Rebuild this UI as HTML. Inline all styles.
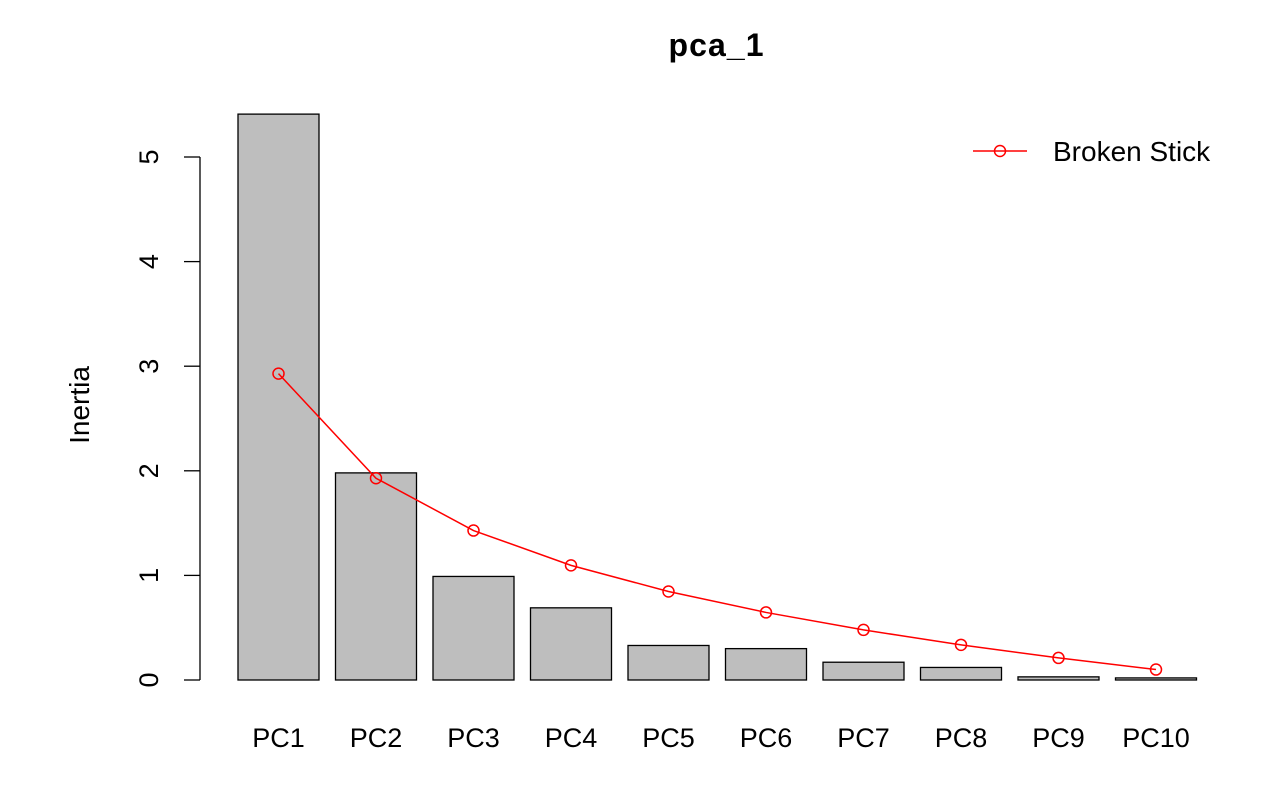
<!DOCTYPE html>
<html><head><meta charset="utf-8"><style>
body{margin:0;background:#fff}
svg{display:block;font-family:"Liberation Sans",Arial,sans-serif}
</style></head><body>
<svg id="chart" width="1276" height="787">
<text x="716" y="56" font-size="32" font-weight="bold" text-anchor="middle" textLength="95">pca_1</text>
<text transform="translate(89,405) rotate(-90)" font-size="28" text-anchor="middle">Inertia</text>
<g id="yaxis"></g>
<g id="bars"></g>
<g id="xlabels"></g>
<g id="line"></g>
<g>
<line x1="973" y1="151" x2="1027" y2="151" stroke="#f00" stroke-width="1.5"/>
<circle cx="1000" cy="151" r="5.5" fill="none" stroke="#f00" stroke-width="1.5"/>
<text x="1053" y="161" font-size="28">Broken Stick</text>
</g>
</svg>
<script>
const categories=["PC1","PC2","PC3","PC4","PC5","PC6","PC7","PC8","PC9","PC10"];
const inertia=[5.41,1.98,0.99,0.69,0.33,0.30,0.17,0.12,0.03,0.02];
const brokenStick=[2.929,1.929,1.429,1.096,0.846,0.646,0.479,0.336,0.211,0.1];
const yTicks=[0,1,2,3,4,5];
const NS="http://www.w3.org/2000/svg";
const y0=680,unit=104.6;
function yScale(v){return y0-v*unit;}
function xLeft(i){return 238+i*97.5;}
function xCenter(i){return xLeft(i)+40.5;}
function mk(tag,attrs,parent){const e=document.createElementNS(NS,tag);for(const k in attrs)e.setAttribute(k,attrs[k]);parent.appendChild(e);return e;}
const ya=document.getElementById('yaxis');
const ax=mk('line',{x1:200,x2:200,y1:yScale(yTicks[0]),y2:yScale(yTicks[yTicks.length-1]),stroke:'#000','stroke-width':1.3},ya);


yTicks.forEach(t=>{
 const l=mk('line',{x1:184,x2:200,y1:yScale(t),y2:yScale(t),stroke:'#000','stroke-width':1.3},ya);
 
 
 const tx=mk('text',{transform:`translate(158,${yScale(t)}) rotate(-90)`,'font-size':27,'text-anchor':'middle'},ya);
 tx.textContent=t;
 
 
});
const bg=document.getElementById('bars'),xl=document.getElementById('xlabels');
inertia.forEach((v,i)=>{
 const r=mk('rect',{x:xLeft(i),y:yScale(v),width:81,height:y0-yScale(v),fill:'#bebebe',stroke:'#000','stroke-width':1.3},bg);
 
 
 const t=mk('text',{x:xCenter(i),y:747,'font-size':27,'text-anchor':'middle'},xl);
 t.textContent=categories[i];
 
 
});
const lg=document.getElementById('line');
const pl=mk('polyline',{points:brokenStick.map((v,i)=>xCenter(i)+','+yScale(v)).join(' '),fill:'none',stroke:'#f00','stroke-width':1.5},lg);


brokenStick.forEach((v,i)=>{
 const c=mk('circle',{cx:xCenter(i),cy:yScale(v),r:5.5,fill:'none',stroke:'#f00','stroke-width':1.5},lg);
 
 
});
</script>
</body></html>
